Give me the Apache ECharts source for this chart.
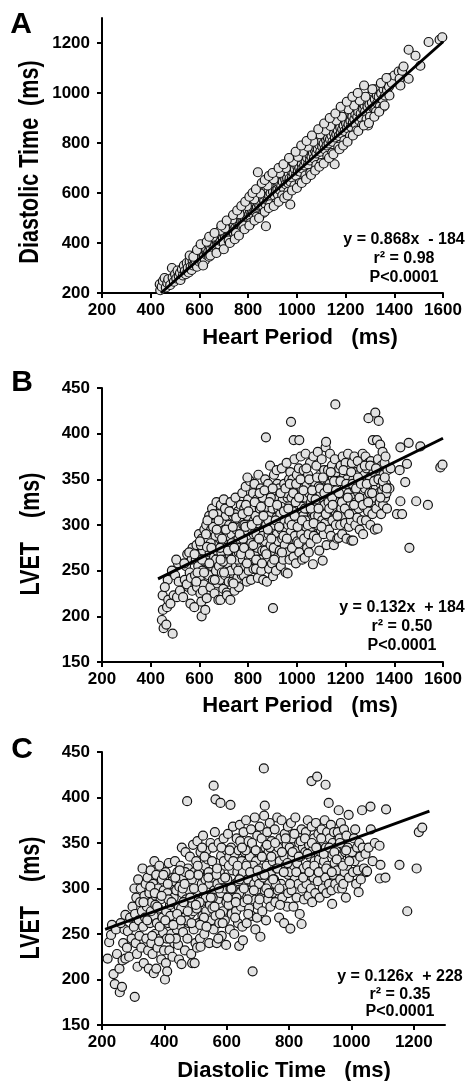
<!DOCTYPE html>
<html><head><meta charset="utf-8">
<script src="https://cdn.jsdelivr.net/npm/echarts@6/dist/echarts.min.js"></script>
<style>html,body{margin:0;padding:0;background:#fff}#c{width:469px;height:1081px}</style>
</head><body><div id="c"></div>
<script>
// ---------- tick values ----------
const hpTicks = [200,400,600,800,1000,1200,1400,1600];
const dtTicksA = [200,400,600,800,1000,1200];
const lvetTicks = [150,200,250,300,350,400,450];
const dtTicksC = [200,400,600,800,1000,1200];

// ---------- panel A: Heart Period vs Diastolic Time ----------
const panelA = [
[437,235],[439,211],[445,225],[450,248],[457,260],[462,222],[468,240],[472,255],
[480,232],[487,300],[490,262],[495,245],[500,275],[505,258],[510,290],[515,268],[520,280],[522,252],
[528,295],[532,270],[536,310],[540,288],[544,275],[548,320],[552,300],[556,282],[560,325],[564,305],[568,292],[572,330],[574,310],
[578,342],[580,318],[584,330],[588,355],[590,305],[594,338],[598,368],[600,325],[604,350],[606,385],[610,340],[612,322],[616,362],[618,345],[620,395],[622,330],[624,372],
[628,375],[630,352],[634,398],[636,365],[640,345],[642,388],[646,372],[648,400],[652,360],[654,412],[658,385],[660,370],[664,395],[666,425],[670,380],[672,405],[674,392],
[678,420],[680,395],[684,440],[686,408],[690,430],[692,455],[696,418],[698,402],[702,445],[704,428],[708,470],[710,435],[714,452],[716,425],[720,478],[722,445],[724,430],
[728,465],[730,448],[734,490],[736,460],[740,442],[742,475],[746,498],[748,462],[752,485],[754,455],[758,505],[760,478],[764,492],[766,470],[770,515],[772,488],[774,465],
[778,505],[780,488],[784,528],[786,498],[790,512],[792,540],[796,505],[798,525],[802,548],[804,515],[808,530],[810,505],[814,555],[816,530],[820,518],[822,545],[824,565],
[828,548],[830,525],[834,570],[836,545],[840,683],[840,560],[842,585],[846,550],[848,575],[852,595],[854,560],[858,580],[860,548],[864,600],[866,570],[870,590],[872,555],[873,467],[874,610],
[878,595],[880,570],[884,612],[886,590],[890,628],[892,600],[896,575],[898,676],[898,620],[902,605],[904,640],[908,590],[910,625],[914,610],[916,648],[920,615],[922,595],[924,635],
[928,640],[930,612],[934,655],[936,630],[940,668],[942,645],[946,620],[948,675],[952,655],[954,635],[958,690],[960,660],[964,640],[966,680],[970,658],[972,700],[973,554],[974,645],
[978,688],[980,662],[984,700],[986,680],[990,718],[992,695],[996,670],[998,725],[1002,705],[1004,688],[1008,730],[1010,700],[1014,685],[1016,740],[1020,715],[1022,698],[1024,752],
[1028,735],[1030,710],[1034,750],[1036,725],[1040,768],[1042,740],[1046,715],[1048,780],[1052,750],[1054,730],[1058,772],[1060,745],[1064,790],[1066,760],[1070,738],[1072,798],[1074,770],
[1078,780],[1080,758],[1084,800],[1086,775],[1090,815],[1092,792],[1096,765],[1098,828],[1102,805],[1104,785],[1108,830],[1110,798],[1114,775],[1116,840],[1120,812],[1122,790],[1124,825],
[1128,820],[1130,798],[1134,842],[1136,815],[1140,855],[1142,830],[1146,805],[1150,865],[1152,840],[1155,715],[1156,822],[1160,858],[1162,835],[1166,872],[1168,850],[1172,828],[1174,880],
[1178,862],[1180,840],[1184,885],[1186,855],[1190,895],[1192,870],[1196,848],[1200,905],[1202,878],[1206,860],[1210,900],[1212,875],[1216,920],[1220,888],[1222,865],[1224,910],
[1228,905],[1230,882],[1234,930],[1236,895],[1240,915],[1242,875],[1246,940],[1248,905],[1252,925],[1256,890],[1260,955],[1262,918],[1266,900],[1270,960],[1272,935],
[1278,950],[1280,925],[1284,965],[1286,895],[1290,945],[1292,870],[1296,985],[1298,955],[1302,930],[1306,990],[1308,962],[1312,1005],[1314,940],[1318,1015],[1320,975],[1322,935],
[1328,990],[1330,960],[1334,1010],[1336,985],[1340,945],[1342,1025],[1346,998],[1350,1035],[1352,975],[1356,1015],[1360,1040],[1362,990],[1366,1030],[1370,1010],[1372,1045],
[1378,1025],[1384,1060],[1390,1040],[1400,1070],[1418,1086],[1422,1057],[1425,1030],[1432,1089],[1438,1106],[1459,1057],[1459,1173],[1487,1149],[1507,1109],[1541,1204],[1586,1213],[1597,1223],
[560,350],[575,345],[590,372],[605,395],[615,310],[630,405],[645,350],[655,425],[670,360],[685,450],[700,400],[705,460],[720,410],[735,495],[750,440],[765,515],[780,470],[795,548],[810,480],[825,575],
[835,505],[850,598],[862,520],[880,630],[890,555],[905,655],[915,560],[930,680],[940,590],[955,700],[965,605],[985,725],[990,630],[1005,745],[1012,640],[1025,765],[1035,670],[1045,785],[1055,680],
[1068,805],[1080,712],[1095,835],[1100,720],[1118,850],[1125,748],[1138,868],[1145,760],[1162,890],[1170,785],[1185,905],[1195,810],[1212,935],[1218,828],[1235,950],[1245,850],[1258,970],[1268,870],
[1282,985],[1300,905],[1310,1015],[1325,925],[1345,1040],[1355,945],[1368,1060],[1380,990],
[640,425],[662,440],[690,470],[712,490],[738,512],[755,530],[772,548],[788,565],[805,585],[818,600],[832,615],[856,640],[868,652],[885,668],[900,680],[925,700],[945,715],[968,740],[995,765],[1018,790],
[1040,808],[1062,830],[1088,855],[1112,878],[1135,900],[1158,918],[1180,945],[1205,965],[1228,985],[1250,1000],[1276,1030],
[700,375],[725,400],[745,415],[762,430],[785,455],[805,470],[826,490],[845,500],[868,525],[885,540],[905,548],[925,565],[948,580],[962,590],[980,610],[1000,620],[1020,640],[1038,655],[1058,672],
[1075,690],[1092,705],[1110,718],[1132,740],[1150,755],[1175,775],[1190,790],[1208,805],[1230,830],[1252,848],[1275,870],[1296,880],[1318,905],[1338,925],[1360,950]
];

// ---------- panel B: Heart Period vs LVET ----------
const panelB = [
[446,196],[449,223],[450,207],[453,187],[464,191],[467,210],[470,240],[458,232],[472,218],
[490,181],[494,223],[481,214],[508,221],[487,250],[500,245],[515,238],[520,228],[512,258],[505,262],
[533,221],[540,240],[545,255],[550,268],[555,232],[560,248],[563,214],[568,262],[572,275],[548,235],[538,258],[565,242],[558,270],[570,228],
[579,210],[582,245],[585,262],[588,278],[590,232],[595,255],[598,290],[600,268],[602,240],[604,225],[608,216],[609,200],[610,285],[612,250],[615,272],[618,235],[620,295],[622,260],[624,207],[580,268],[592,248],[606,278],[614,228],[587,238],
[628,300],[630,220],[632,262],[635,285],[638,245],[640,310],[642,270],[645,232],[648,295],[650,255],[652,318],[655,240],[658,278],[660,265],[662,225],[664,302],[666,288],[668,250],[670,325],[672,272],[674,236],[636,258],[646,280],[656,298],[668,262],[631,276],
[676,312],[678,218],[680,255],[682,290],[684,240],[686,218],[688,322],[690,270],[692,248],[694,302],[696,282],[698,230],[700,328],[702,262],[704,295],[706,245],[708,310],[710,275],[712,226],[713,223],[715,288],[716,258],[718,318],[720,238],[722,300],[724,268],[727,218],[685,275],[697,260],[705,318],
[728,325],[730,250],[732,290],[734,272],[736,238],[738,310],[740,262],[742,300],[744,228],[746,282],[748,330],[750,255],[752,295],[754,268],[756,242],[758,315],[760,285],[762,232],[764,305],[766,275],[768,258],[770,322],[772,290],[774,245],[733,280],[745,312],[757,262],[768,298],[740,236],[762,270],
[776,335],[778,262],[780,300],[782,245],[784,318],[786,280],[788,255],[790,342],[792,292],[794,238],[796,310],[798,270],[800,328],[802,250],[804,300],[806,285],[808,348],[810,262],[812,240],[814,318],[816,295],[818,272],[820,335],[822,252],[824,305],[779,285],[791,322],[803,265],[813,280],[823,290],[785,300],[797,352],
[826,345],[828,268],[830,310],[832,252],[834,290],[836,328],[838,275],[840,242],[842,355],[844,300],[846,262],[848,318],[850,285],[852,340],[854,250],[856,305],[858,272],[860,330],[862,240],[864,295],[866,315],[868,260],[870,350],[872,282],[874,300],[873,396],[877,238],[835,302],[847,335],[859,288],[869,272],[851,262],
[878,320],[880,262],[882,345],[884,290],[886,252],[888,310],[890,365],[892,278],[894,300],[896,335],[898,258],[900,318],[902,244],[902,209],[904,285],[906,355],[908,300],[910,270],[912,328],[914,250],[916,308],[918,290],[920,345],[922,265],[924,318],[883,305],[893,330],[905,275],[917,360],[925,282],
[928,340],[930,272],[932,312],[934,255],[936,295],[938,362],[940,285],[942,328],[944,262],[946,305],[948,345],[950,278],[952,318],[954,248],[956,295],[958,368],[960,270],[962,247],[962,330],[964,300],[966,285],[968,350],[970,262],[972,315],[974,292],[976,413],[935,320],[945,288],[957,335],[969,305],[973,358],
[978,330],[980,275],[982,350],[984,300],[986,265],[987,393],[988,318],[990,372],[992,288],[994,340],[996,258],[998,310],[1000,355],[1002,282],[1004,325],[1006,298],[1008,362],[1010,393],[1010,270],[1012,335],[1014,305],[1016,375],[1018,290],[1020,320],[1022,262],[1024,345],[983,315],[995,325],[1007,280],[1019,340],[1001,303],
[1026,310],[1028,360],[1030,285],[1032,264],[1034,330],[1036,378],[1038,298],[1040,345],[1042,275],[1044,318],[1046,355],[1048,290],[1050,335],[1052,305],[1054,368],[1056,280],[1058,325],[1060,348],[1062,298],[1064,315],[1066,257],[1068,375],[1070,288],[1072,338],[1074,310],[1035,305],[1049,270],[1061,330],
[1076,345],[1078,300],[1080,365],[1082,285],[1084,325],[1086,380],[1088,310],[1090,342],[1092,272],[1094,330],[1096,355],[1098,295],[1100,318],[1102,372],[1104,305],[1106,261],[1108,340],[1110,290],[1112,360],[1114,322],[1116,302],[1118,385],[1120,391],[1120,335],[1122,278],[1124,350],[1085,300],[1097,335],
[1126,310],[1128,360],[1130,325],[1132,295],[1134,345],[1136,378],[1138,318],[1140,288],[1142,338],[1144,365],[1146,305],[1148,352],[1150,330],[1152,278],[1154,342],[1156,372],[1158,432],[1158,315],[1160,300],[1162,358],[1164,325],[1166,285],[1168,345],[1170,312],[1172,286],[1174,362],[1145,330],
[1176,335],[1178,300],[1180,365],[1182,318],[1184,348],[1186,290],[1188,375],[1190,328],[1192,310],[1194,355],[1196,340],[1198,302],[1200,368],[1202,325],[1204,285],[1206,350],[1208,315],[1210,378],[1212,335],[1214,298],[1216,360],[1218,322],[1220,345],[1222,305],[1224,283],
[1226,368],[1228,330],[1231,283],[1232,350],[1234,312],[1236,375],[1238,340],[1240,300],[1242,358],[1244,325],[1246,345],[1248,308],[1250,370],[1252,335],[1254,318],[1256,355],[1258,295],[1260,342],[1262,328],[1264,362],[1266,305],[1268,350],[1270,378],[1272,290],[1274,338],
[1276,320],[1278,355],[1280,340],[1282,375],[1284,305],[1286,362],[1288,330],[1290,348],[1292,315],[1294,417],[1295,368],[1298,335],[1300,352],[1302,300],[1304,370],[1306,325],[1308,345],[1310,312],[1312,393],[1315,358],[1318,330],[1320,295],[1322,423],[1322,365],[1324,340],[1329,393],
[1326,318],[1328,350],[1331,296],[1333,372],[1336,414],[1336,335],[1338,360],[1340,325],[1342,388],[1344,345],[1346,312],[1348,365],[1350,338],[1352,380],[1354,322],[1356,355],[1358,342],[1360,368],[1362,330],[1364,375],[1366,345],[1368,335],[1370,318],[1372,360],
[1380,340],[1385,362],[1411,312],[1432,312],[1425,326],[1422,360],[1425,385],[1445,347],[1452,367],[1459,390],[1462,275],[1490,326],[1507,386],[1538,322],[1589,363],[1598,366],
[602,282],[611,262],[619,248],[627,290],[633,305],[641,258],[649,275],[657,312],[663,240],[671,295],[679,305],[687,262],[693,285],[701,248],[709,295],[717,272],[723,315],[731,262],[737,298],[743,275],
[751,308],[759,250],[765,290],[771,268],[777,312],[783,275],[789,298],[795,258],[801,315],[807,268],[815,300],[821,278],[827,325],[833,262],[839,305],[845,285],[853,320],[857,258],[863,310],[867,338],
[875,268],[881,295],[887,325],[895,285],[901,340],[907,262],[913,305],[919,322],[927,298],[933,335],[939,270],[947,315],[953,340],[959,285],[965,318],[971,345],[979,300],[985,335],[991,310],[997,345],
[1003,298],[1009,330],[1015,350],[1021,305],[1027,338],[1033,318],[1039,362],[1045,300],[1051,350],[1057,318],[1063,338],[1069,302],[1077,328],[1083,352],[1089,318],[1095,340],[1101,298],[1107,352],
[1113,335],[1119,312],[1127,340],[1133,318],[1139,358],[1147,322],[1153,348],[1161,338],[1167,310],[1173,335],[1179,348],[1185,325],[1191,360],[1197,318],[1203,345],[1209,330],[1215,312],[1223,358],
[1229,345],[1235,322],[1243,340],[1251,352],[1257,330],[1263,345],[1271,322],[1279,365],[1287,345],[1293,325],[1301,365],[1309,335],[1317,348],[1325,362],[1335,350],[1343,330],[1353,348],[1361,352],[1369,340]
];

// ---------- panel C: Diastolic Time vs LVET ----------
const panelC = [
[218,223],[223,241],[229,249],[237,206],[241,195],[232,260],[245,255],[248,228],
[256,212],[257,186],[264,192],[266,221],[275,223],[272,255],[283,253],[275,271],[260,262],[268,240],[280,235],[290,268],[295,245],[287,225],[298,280],
[305,181],[302,258],[304,300],[306,272],[308,240],[310,290],[312,228],[314,214],[316,310],[318,265],[320,248],[322,285],[324,300],[326,235],[328,275],[330,322],[332,258],[334,218],[336,292],[338,268],[340,305],[342,245],[344,280],[346,312],[348,232],[350,212],
[352,295],[354,262],[356,320],[358,240],[360,285],[362,228],[364,305],[366,207],[366,270],[368,330],[370,250],[372,292],[374,212],[374,315],[376,262],[378,235],[380,300],[382,278],[384,325],[386,245],[388,288],[390,222],[392,310],[394,268],[396,252],[398,298],[399,232],[357,275],[371,282],[385,258],
[402,200],[404,318],[405,218],[406,275],[408,245],[409,209],[410,295],[412,262],[414,328],[416,232],[418,282],[420,305],[422,250],[424,270],[426,225],[428,312],[430,290],[432,240],[434,330],[436,265],[438,298],[440,255],[442,318],[444,238],[446,280],[448,302],[450,260],[413,288],[425,308],[437,245],[447,222],[419,270],
[452,325],[454,278],[455,217],[456,345],[458,295],[460,252],[462,312],[464,268],[466,232],[468,340],[470,288],[472,305],[473,396],[474,245],[476,322],[478,262],[480,298],[482,335],[484,272],[486,228],[488,310],[489,218],[490,282],[492,348],[494,255],[496,318],[497,218],[498,290],[500,240],[459,300],[471,265],[483,290],[493,275],[467,318],
[502,330],[505,235],[504,278],[506,352],[508,298],[510,262],[512,318],[514,245],[516,236],[516,340],[518,285],[520,305],[522,270],[524,358],[526,292],[528,250],[530,325],[532,310],[534,275],[536,342],[538,258],[540,298],[542,318],[544,240],[546,282],[548,350],[550,265],[509,315],[521,345],[533,290],[545,305],[527,268],[539,332],[513,285],
[552,312],[554,278],[556,345],[558,413],[558,255],[560,298],[562,362],[564,398],[564,270],[566,328],[568,240],[570,305],[572,288],[574,350],[576,262],[578,318],[580,394],[580,295],[582,336],[584,248],[586,310],[588,275],[590,355],[592,300],[594,265],[596,325],[598,238],[600,342],[555,290],[567,315],[579,272],[591,330],[599,285],[573,245],
[602,310],[604,360],[606,282],[608,335],[610,255],[612,392],[612,300],[614,345],[616,272],[618,320],[620,368],[622,290],[624,250],[626,338],[628,305],[630,275],[632,355],[634,318],[636,262],[638,342],[640,237],[640,295],[642,370],[644,312],[646,280],[648,330],[650,258],[607,325],[619,300],[631,290],[643,352],[627,268],[637,308],
[652,243],[652,318],[654,362],[656,285],[658,340],[660,300],[662,375],[664,262],[666,328],[668,310],[670,352],[672,278],[674,335],[676,298],[678,365],[680,270],[682,320],[683,209],[684,345],[686,288],[688,305],[690,378],[692,255],[694,330],[696,312],[698,358],[700,282],[661,342],[673,295],[685,325],[697,268],[667,288],
[702,340],[704,305],[706,368],[708,247],[708,322],[710,290],[712,355],[714,275],[716,335],[718,312],[719,432],[720,380],[722,298],[722,391],[724,345],[726,265],[728,325],[730,362],[732,288],[734,340],[736,305],[738,372],[740,280],[742,318],[744,352],[746,295],[748,330],[711,315],[727,300],[739,345],
[752,310],[754,365],[756,285],[758,338],[760,322],[762,378],[764,298],[766,345],[768,268],[770,330],[772,355],[774,305],[776,375],[778,290],[780,340],[782,318],[784,262],[786,360],[788,325],[790,300],[792,348],[794,280],[796,368],[798,315],[757,305],[771,282],[785,335],[797,295],
[802,345],[804,256],[804,318],[806,372],[808,298],[810,335],[812,355],[814,280],[816,325],[818,310],[820,378],[822,342],[824,290],[826,328],[828,360],[830,305],[832,350],[834,272],[836,335],[838,318],[840,261],[840,365],[842,300],[844,345],[846,322],[848,288],
[852,340],[854,362],[856,305],[858,325],[860,375],[862,292],[864,348],[866,318],[868,335],[870,300],[872,418],[872,368],[874,285],[876,342],[878,312],[880,355],[882,330],[884,295],[886,372],[888,320],[890,423],[890,345],[892,308],[894,360],[896,332],[898,290],
[902,340],[904,365],[906,318],[908,300],[910,352],[912,330],[914,375],[916,312],[917,414],[918,345],[920,295],[922,362],[924,325],[926,340],[927,394],[928,305],[930,355],[932,320],[934,370],[936,298],[938,283],[938,338],[940,350],[942,315],[944,362],[946,328],[948,305],
[952,345],[954,320],[956,362],[958,300],[959,386],[960,335],[962,355],[964,310],[966,372],[968,328],[970,300],[972,348],[974,305],[976,365],[978,318],[980,340],[982,290],[984,358],[986,325],[988,345],[991,381],[992,312],[995,335],
[1002,340],[1005,318],[1008,355],[1010,330],[1012,365],[1015,305],[1018,345],[1020,320],[1023,296],[1025,350],[1028,335],[1030,310],[1034,386],[1036,345],[1040,322],[1045,338],[1048,318],
[1050,319],[1055,345],[1061,390],[1062,365],[1068,330],[1075,350],[1090,347],[1093,326],[1091,311],[1109,312],[1111,387],[1154,326],[1179,275],[1209,322],[1216,362],[1227,367],
[333,285],[345,265],[355,302],[361,248],[369,295],[377,280],[383,242],[391,292],[397,315],[403,265],[411,305],[417,245],[423,285],[429,260],[435,312],[441,272],[449,320],[453,265],[461,285],[465,305],
[475,275],[481,315],[487,262],[495,300],[501,282],[507,325],[515,260],[523,300],[529,335],[535,258],[541,312],[549,290],[553,330],[561,280],[569,322],[575,300],[583,345],[587,262],[595,312],[603,290],
[609,342],[615,300],[621,330],[629,285],[635,325],[641,310],[649,345],[655,300],[663,325],[669,272],[675,318],[681,350],[687,298],[693,342],[699,320],[705,288],[713,335],[721,315],[729,348],[735,295],
[743,335],[749,310],[755,350],[763,322],[769,300],[777,340],[783,318],[789,355],[795,328],[803,305],[811,340],[817,360],[823,318],[831,335],[837,352],[845,312],[851,355],[859,338],[865,318],[873,350],
[881,325],[887,345],[895,318],[903,355],[911,338],[919,322],[929,345],[937,318],[945,340],[953,332],[963,350],[973,325],[983,342],[993,330]
];

// ---------- regression lines (end points) ----------
const fitA = [[442,200],[1600,1205]];
const fitB = [[430,241],[1600,395]];
const fitC = [[210,255],[1250,385]];

// ---------- texts ----------
const eqA = ['y = 0.868x  - 184', 'r\u00B2 = 0.98', 'P<0.0001'];
const eqB = ['y = 0.132x  + 184', 'r\u00B2 = 0.50', 'P<0.0001'];
const eqC = ['y = 0.126x  + 228', 'r\u00B2 = 0.35', 'P<0.0001'];

const FF = '"Liberation Sans", Arial, Helvetica, sans-serif';
const plain = function (v) { return String(v); };

function xAx(gi, min, max, ticks) {
  return {
    type: 'value', gridIndex: gi, min: min, max: max,
    axisLine: { show: true, onZero: false, lineStyle: { color: '#000', width: 2 } },
    axisTick: { show: true, inside: false, length: 5, customValues: ticks, lineStyle: { color: '#000', width: 2 } },
    axisLabel: { show: true, customValues: ticks, formatter: plain, color: '#000', fontFamily: FF, fontWeight: 'bold', fontSize: 17, margin: 9 },
    splitLine: { show: false }
  };
}
function yAx(gi, min, max, ticks) {
  return {
    type: 'value', gridIndex: gi, min: min, max: max,
    axisLine: { show: true, onZero: false, lineStyle: { color: '#000', width: 2 } },
    axisTick: { show: true, inside: false, length: 5, customValues: ticks, lineStyle: { color: '#000', width: 2 } },
    axisLabel: { show: true, customValues: ticks, formatter: plain, color: '#000', fontFamily: FF, fontWeight: 'bold', fontSize: 17, margin: 12 },
    splitLine: { show: false }
  };
}
function scat(i, data) {
  return {
    type: 'scatter', xAxisIndex: i, yAxisIndex: i, data: data, symbol: 'circle', symbolSize: 9,
    itemStyle: { color: '#e2e2e2', borderColor: '#111', borderWidth: 1.2, opacity: 1 },
    silent: true, z: 2, emphasis: { disabled: true }
  };
}
function fit(i, data) {
  return {
    type: 'line', xAxisIndex: i, yAxisIndex: i, data: data, symbol: 'none',
    lineStyle: { color: '#000', width: 3 }, silent: true, z: 5
  };
}
function txt(x, y, text, font, extra) {
  return Object.assign({
    type: 'text', x: x, y: y, z: 10,
    style: { text: text, font: font, fill: '#000', textAlign: 'center', textVerticalAlign: 'middle', align: 'center', verticalAlign: 'middle' }
  }, extra || {});
}
function eqTexts(cx, y0, step, lines) {
  return lines.map(function (t, k) { return txt(cx, y0 + k * step, t, 'bold 16px ' + FF); });
}

const chart = echarts.init(document.getElementById('c'), null, { renderer: 'canvas' });
const gridBase = { left: 102, right: 26, containLabel: false, outerBoundsMode: 'none' };
chart.setOption({
  backgroundColor: '#fff',
  animation: false,
  grid: [
    Object.assign({ top: 18, height: 275 }, gridBase),
    Object.assign({ top: 388, height: 274 }, gridBase),
    Object.assign({ top: 752, height: 273 }, gridBase, { right: 24 })
  ],
  xAxis: [ xAx(0, 200, 1600, hpTicks), xAx(1, 200, 1600, hpTicks), xAx(2, 200, 1300, dtTicksC) ],
  yAxis: [ yAx(0, 200, 1300, dtTicksA), yAx(1, 150, 450, lvetTicks), yAx(2, 150, 450, lvetTicks) ],
  series: [ scat(0, panelA), scat(1, panelB), scat(2, panelC), fit(0, fitA), fit(1, fitB), fit(2, fitC) ],
  graphic: [].concat(
    [
      txt(21, 25, 'A', 'bold 30px ' + FF),
      txt(22, 383, 'B', 'bold 30px ' + FF),
      txt(22, 750, 'C', 'bold 30px ' + FF),
      txt(30, 162, 'Diastolic Time  (ms)', 'bold 28px ' + FF, { rotation: Math.PI / 2, scaleX: 0.77 }),
      txt(31, 534, 'LVET    (ms)', 'bold 28px ' + FF, { rotation: Math.PI / 2, scaleX: 0.77 }),
      txt(31, 898, 'LVET    (ms)', 'bold 28px ' + FF, { rotation: Math.PI / 2, scaleX: 0.77 }),
      txt(300, 338, 'Heart Period   (ms)', 'bold 22px ' + FF),
      txt(300, 706, 'Heart Period   (ms)', 'bold 22px ' + FF),
      txt(284, 1071, 'Diastolic Time   (ms)', 'bold 22px ' + FF)
    ],
    eqTexts(404, 240, 19, eqA),
    eqTexts(402, 608, 19, eqB),
    eqTexts(400, 977, 17.5, eqC)
  )
});
</script>
</body></html>
